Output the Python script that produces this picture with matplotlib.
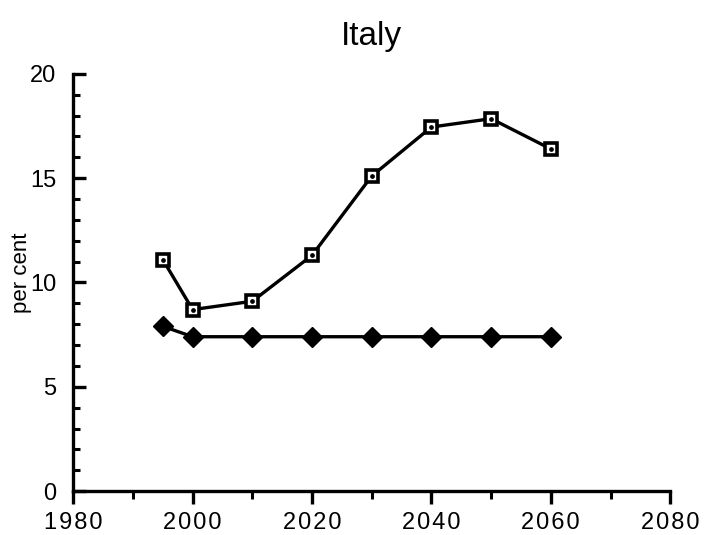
import matplotlib
matplotlib.use("Agg")
import matplotlib.pyplot as plt
from matplotlib.ticker import MultipleLocator, FuncFormatter

years = [1995, 2000, 2010, 2020, 2030, 2040, 2050, 2060]
series_square = [11.1, 8.7, 9.1, 11.3, 15.1, 17.45, 17.85, 16.4]
series_diamond = [7.9, 7.4, 7.4, 7.4, 7.4, 7.4, 7.4, 7.4]
x_ticks = [1980, 2000, 2020, 2040, 2060, 2080]
y_ticks = [0, 5, 10, 15, 20]

fam = ["Liberation Sans", "DejaVu Sans"]

fig = plt.figure(figsize=(7.04, 5.35), dpi=100)
ax = fig.add_axes([0.104, 0.082, 0.848, 0.780])

ax.plot(years, series_square, color="black", lw=2.4, marker="s", ms=8.6,
        mfc="white", mec="black", mew=2.6, zorder=3)
ax.plot(years, series_square, ls="none", marker="o", ms=2.4, color="black", zorder=4)
ax.plot(years, series_diamond, color="black", lw=2.4, marker="D", ms=10,
        mfc="black", mec="black", zorder=3)

ax.set_xlim(1980, 2080)
ax.set_ylim(0, 20)
ax.set_xticks(x_ticks)
ax.set_yticks(y_ticks)
ax.xaxis.set_minor_locator(MultipleLocator(10))
ax.yaxis.set_minor_locator(MultipleLocator(1))
ax.xaxis.set_major_formatter(FuncFormatter(lambda v, p: "\u200a".join(str(int(round(v))))))

for s in ["top", "right"]:
    ax.spines[s].set_visible(False)
for s in ["left", "bottom"]:
    ax.spines[s].set_linewidth(2.4)

ax.tick_params(axis="y", which="major", direction="in", length=9.5, width=2.4, labelsize=17, pad=12)
ax.tick_params(axis="y", which="minor", direction="in", length=5, width=2.2)
ax.tick_params(axis="x", which="major", direction="out", length=9.5, width=2.4, labelsize=17, pad=5.5)
ax.tick_params(axis="x", which="minor", direction="out", length=6, width=2.2)
for lab in ax.get_xticklabels() + ax.get_yticklabels():
    lab.set_fontfamily(fam)

ax.set_title("Italy", fontsize=24, fontfamily=fam, pad=21)
ax.set_ylabel("per cent", fontsize=16, fontfamily=fam)
ax.yaxis.set_label_coords(-0.0687, 0.523)

fig.savefig("out.png", dpi=100)
